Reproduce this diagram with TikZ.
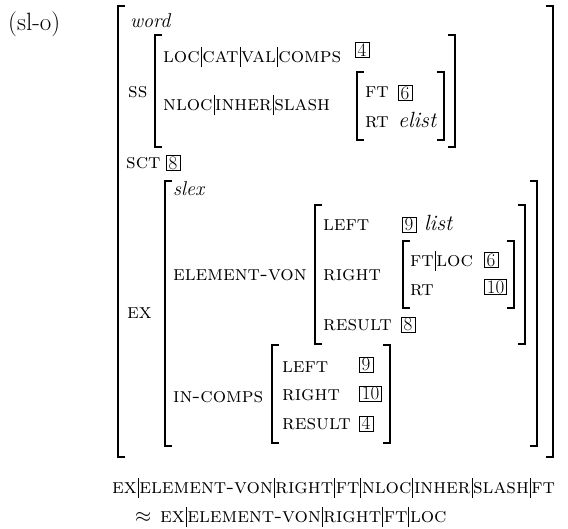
\documentclass[tikz,border=0pt]{standalone}
\newcommand\avmsz{\fontsize{21}{24}\selectfont}
\newcommand\pbar{\kern1pt\rule[-5pt]{0.6pt}{20pt}\kern1pt}
\tikzset{
  lbl/.style={anchor=base west, inner sep=0pt, font=\avmsz\scshape},
  typ/.style={anchor=base west, inner sep=0pt, font=\fontsize{20}{24}\selectfont\itshape},
  tag/.style={draw, line width=0.6pt, inner xsep=2.5pt, inner ysep=1.5pt,
    font=\fontsize{19}{19}\selectfont, text height=12.2pt, text depth=0pt, anchor=center},
  brk/.style={line width=1.1pt}
}
\newcommand\avmbrack[4]{%
  \draw[brk] ({#1+7},#3) -- (#1,#3) -- (#1,#4) -- ({#1+7},#4);
  \draw[brk] ({#2-7},#3) -- (#2,#3) -- (#2,#4) -- ({#2-7},#4);}
\begin{document}
\begin{tikzpicture}[x=1pt,y=-1pt]
\useasboundingbox (0,0) rectangle (568,528);
% example number
\node[anchor=base west, inner sep=0pt, font=\fontsize{25}{28}\selectfont] (num) at (8,30) {(sl-o)};
% brackets
\avmbrack{118}{553}{6}{457}
\avmbrack{155}{455}{35}{147}
\avmbrack{357}{444}{72}{140}
\avmbrack{165}{537}{181}{446}
\avmbrack{315}{525}{205}{344}
\avmbrack{403}{514}{241}{308}
\avmbrack{272}{390}{345}{443}
% outer
\node[typ] (word) at (130,27) {word};
\node[lbl] (ss) at (128,97) {ss};
\node[lbl] (lcvc) at (163,62) {loc\pbar cat\pbar val\pbar comps};
\node[tag] (t4a) at (362,50) {4};
\node[lbl] (nis) at (163,110) {nloc\pbar inher\pbar slash};
\node[lbl] (ft1) at (365,97) {ft};
\node[tag] (t6a) at (405,93) {6};
\node[lbl] (rt1) at (365,127) {rt};
\node[typ, font=\fontsize{22}{24}\selectfont\itshape] (elist) at (398,127) {elist};
\node[lbl] (sct) at (126,168) {sct};
\node[tag, anchor=west] (t8a) at ([xshift=5pt,yshift=5pt]sct.base east) {8};
\node[lbl] (ex) at (127,318) {ex};
% EX value
\node[typ] (slex) at (173,195) {slex};
\node[lbl] (ev) at (173,280) {element-von};
\node[lbl] (evl) at (323,230) {left};
\node[tag] (t9a) at (409,224.5) {9};
\node[typ, font=\fontsize{22}{24}\selectfont\itshape] (list) at (424,230) {list};
\node[lbl] (evr) at (323,280) {right};
\node[lbl] (ftloc) at (410,266) {ft\pbar loc};
\node[tag] (t6b) at (491,260) {6};
\node[lbl] (rt2) at (410,295) {rt};
\node[tag] (t10a) at (495.5,287) {10};
\node[lbl] (evres) at (323,330) {result};
\node[tag] (t8b) at (408,324.5) {8};
\node[lbl] (ic) at (173,402) {in-comps};
\node[lbl] (icl) at (282,372) {left};
\node[tag] (t9b) at (366,364.5) {9};
\node[lbl] (icr) at (282,400) {right};
\node[tag] (t10b) at (370.5,393.5) {10};
\node[lbl] (icres) at (282,429) {result};
\node[tag] (t4b) at (366,423.5) {4};
% bottom equation
\node[lbl] (eq1) at (112,493) {ex\pbar element-von\pbar right\pbar ft\pbar nloc\pbar inher\pbar slash\pbar ft};
\node[anchor=base west, inner sep=0pt, font=\avmsz] (approx) at (135,522) {$\approx$};
\node[lbl] (eq2) at (160,522) {ex\pbar element-von\pbar right\pbar ft\pbar loc};
\end{tikzpicture}
\end{document}
